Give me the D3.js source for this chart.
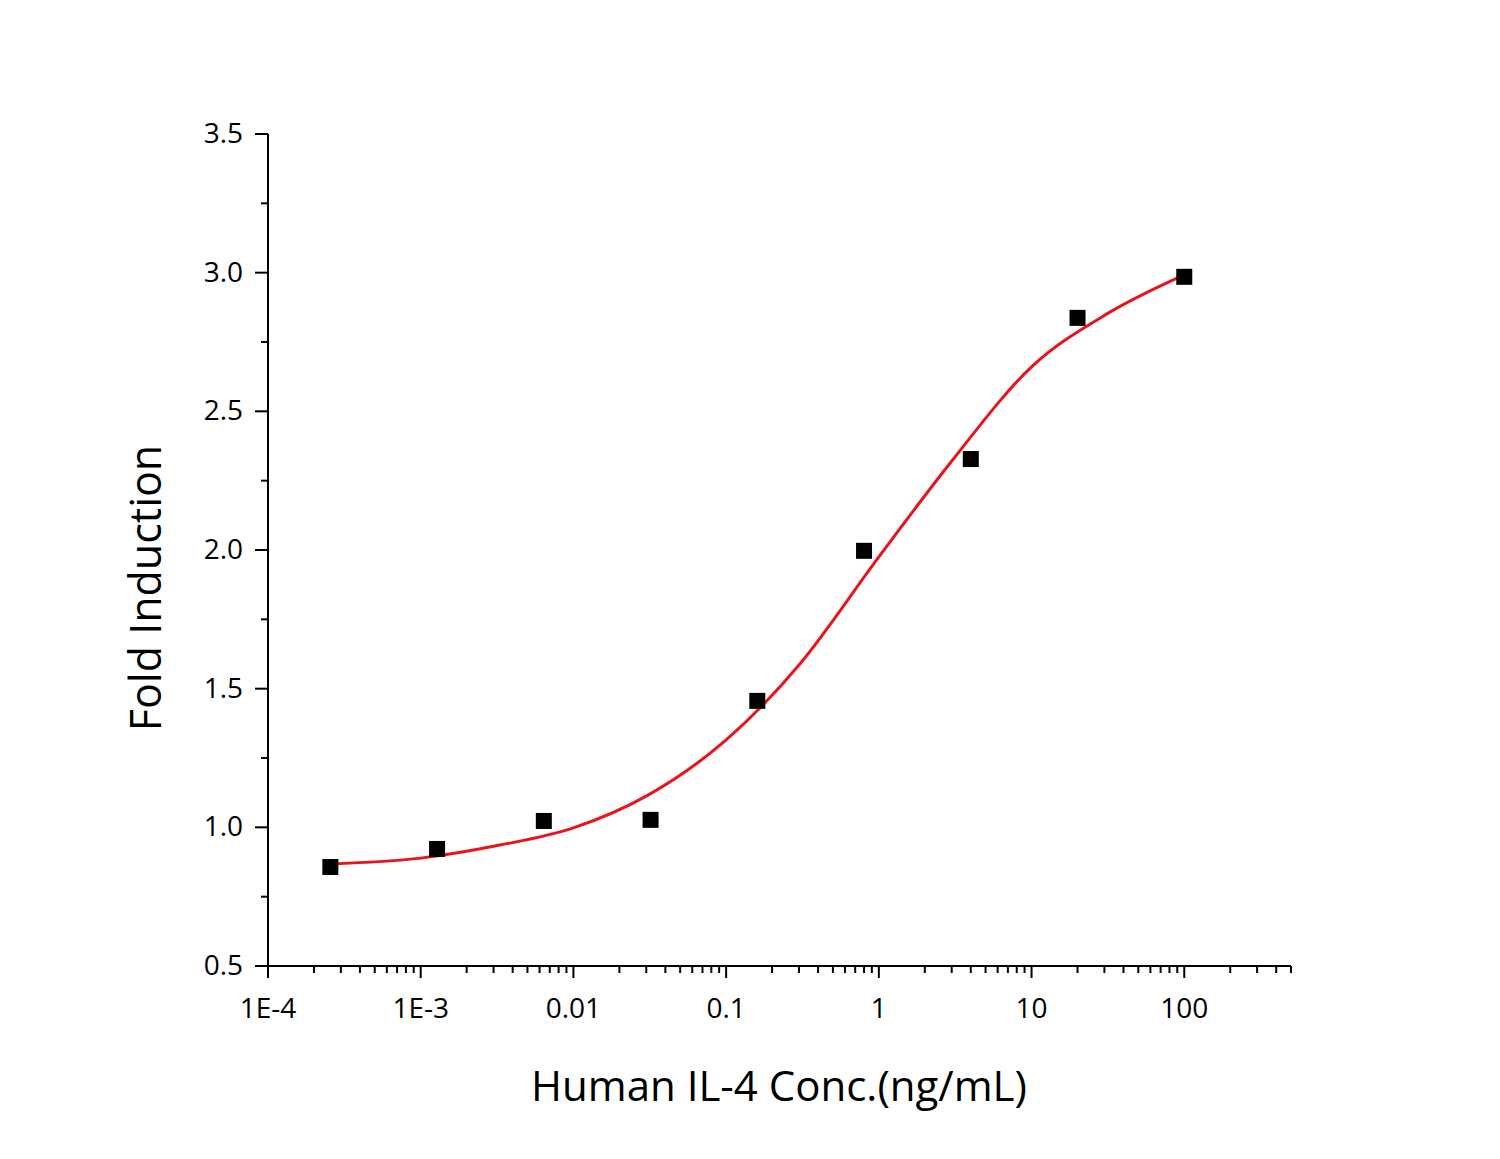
<!DOCTYPE html>
<html><head><meta charset="utf-8">
<script src="https://cdn.jsdelivr.net/npm/d3@7"></script>
<style>body{margin:0;background:#fff}svg text{font-family:"Open Sans",sans-serif}</style>
</head><body><svg id="c" width="1500" height="1159"></svg>
<script>
const concentrations=[2.56e-4,1.28e-3,6.4e-3,0.032,0.16,0.8,4,20,100];
const foldInduction=[0.857,0.922,1.023,1.027,1.456,1.997,2.328,2.837,2.985];
const curveConc=[2.56e-4,1e-3,3.3e-3,0.01,0.031,0.1,0.305,1,2.9,10,32,100];
const curveFold=[0.868,0.889,0.936,0.998,1.117,1.315,1.59,1.975,2.31,2.66,2.855,2.992];
const xTickLabels=["1E-4","1E-3","0.01","0.1","1","10","100"];
const yTicks=[0.5,1.0,1.5,2.0,2.5,3.0,3.5];

const svg=d3.select("#c");
const x=d3.scaleLog().domain([1e-4,500]).range([268,1291]);
const y=d3.scaleLinear().domain([0.5,3.5]).range([966,134]);
const ink="#000";

const minor=[];
for(let e=-4;e<=2;e++)for(let m=2;m<=9;m++){const v=m*Math.pow(10,e);if(v<=500)minor.push(v);}
const gx=svg.append("g");
gx.append("line").attr("x1",268).attr("x2",1291).attr("y1",y(0.5)).attr("y2",y(0.5)).attr("stroke",ink).attr("stroke-width",2);
gx.selectAll(".mn").data(minor).join("line").attr("x1",d=>x(d)).attr("x2",d=>x(d)).attr("y1",966).attr("y2",973).attr("stroke",ink).attr("stroke-width",2);
const majors=xTickLabels.map((t,i)=>Math.pow(10,i-4));
gx.selectAll(".mj").data(majors).join("line").attr("x1",d=>x(d)).attr("x2",d=>x(d)).attr("y1",966).attr("y2",978).attr("stroke",ink).attr("stroke-width",2);
gx.selectAll(".tl").data(majors).join("text").attr("x",d=>x(d)).attr("y",1018).attr("text-anchor","middle").attr("font-size",28).text((d,i)=>xTickLabels[i]);

const gy=svg.append("g");
gy.append("line").attr("x1",268).attr("x2",268).attr("y1",134).attr("y2",967).attr("stroke",ink).attr("stroke-width",2);
const yMinor=d3.range(0.75,3.5,0.5);
gy.selectAll(".ym").data(yMinor).join("line").attr("x1",261).attr("x2",268).attr("y1",d=>y(d)).attr("y2",d=>y(d)).attr("stroke",ink).attr("stroke-width",2);
gy.selectAll(".yM").data(yTicks).join("line").attr("x1",255).attr("x2",268).attr("y1",d=>y(d)).attr("y2",d=>y(d)).attr("stroke",ink).attr("stroke-width",2);
gy.selectAll(".yl").data(yTicks).join("text").attr("x",243).attr("y",d=>y(d)+9).attr("text-anchor","end").attr("font-size",28).text(d=>d.toFixed(1));

svg.append("text").attr("x",779).attr("y",1101).attr("text-anchor","middle").attr("font-size",42).text("Human IL-4 Conc.(ng/mL)");
svg.append("text").attr("transform","translate(161,588) rotate(-90)").attr("text-anchor","middle").attr("font-size",43).text("Fold Induction");

const line=d3.line().x((d,i)=>x(curveConc[i])).y(d=>y(d)).curve(d3.curveMonotoneX);
svg.append("path").attr("d",line(curveFold)).attr("fill","none").attr("stroke","#e8141c").attr("stroke-width",3);

svg.selectAll(".pt").data(foldInduction).join("rect").attr("x",(d,i)=>x(concentrations[i])-8).attr("y",d=>y(d)-8).attr("width",16).attr("height",16).attr("fill",ink);
</script></body></html>
